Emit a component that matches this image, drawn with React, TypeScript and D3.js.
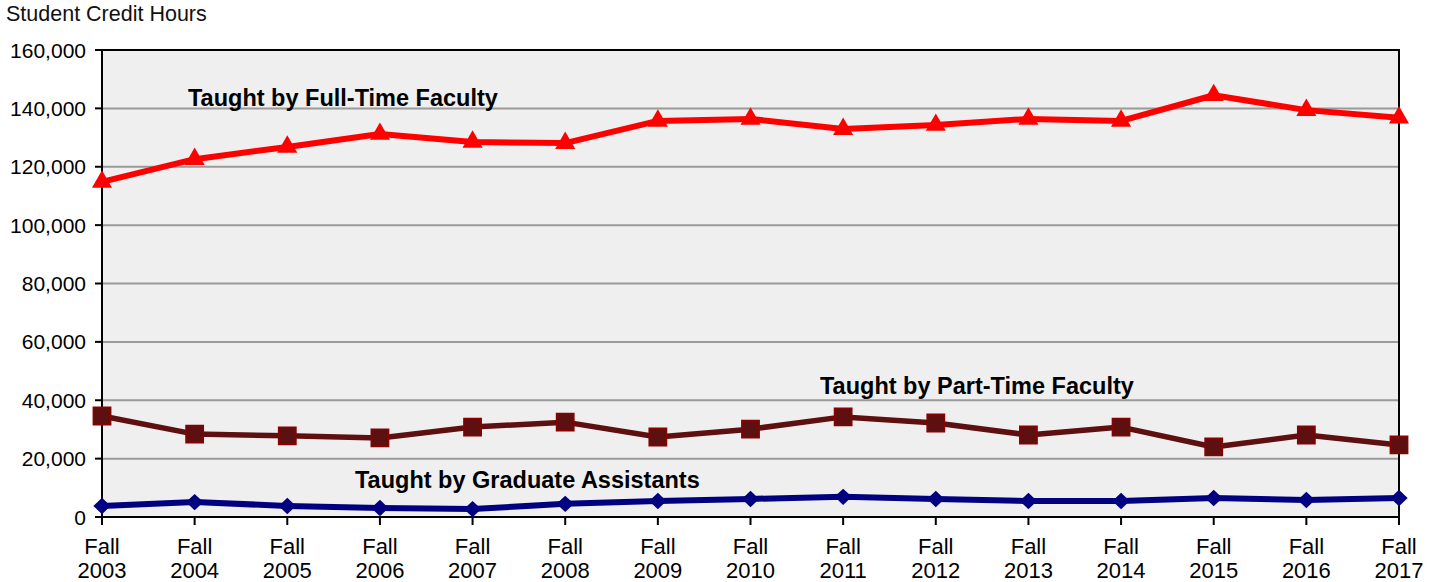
import React from "react";
import * as d3 from "d3";

const categories = ["2003","2004","2005","2006","2007","2008","2009","2010","2011","2012","2013","2014","2015","2016","2017"];
const fullTime = [114800,122600,126800,131200,128500,128100,135700,136400,132900,134300,136400,135700,144500,139400,136800];
const partTime = [34600,28400,27800,27100,30800,32500,27400,30100,34300,32200,28100,30800,24000,28100,24700];
const gradAssist = [3800,5100,3800,3100,2700,4500,5500,6200,6900,6200,5500,5500,6500,5800,6500];
const yTicks = [0,20000,40000,60000,80000,100000,120000,140000,160000];

const W = 1442, H = 582;
const L = 102, R = 1399, T = 50, B = 517;

export default function App() {
  const x = d3.scalePoint<string>().domain(categories).range([L, R]);
  const y = d3.scaleLinear().domain([0, 160000]).range([B, T]);
  const line = d3.line<number>().x((_, i) => x(categories[i])!).y((d) => y(d));
  const fmt = d3.format(",");
  const font = "'Liberation Sans', Arial, sans-serif";
  const tri = d3.symbol().type(d3.symbolTriangle).size(175)()!;
  const sq = d3.symbol().type(d3.symbolSquare).size(300)()!;
  const dia = d3.symbol().type(d3.symbolSquare).size(150)()!;

  return (
    <svg width={W} height={H} style={{ position: "absolute", left: 0, top: 0 }} fontFamily={font}>
      <rect x={0} y={0} width={W} height={H} fill="#ffffff" />
      <rect x={L} y={T} width={R - L} height={B - T} fill="#efefef" />
      {yTicks.map((t) => (
        <g key={t}>
          {t > 0 && t < 160000 && (
            <line x1={L} x2={R} y1={y(t)} y2={y(t)} stroke="#9a9a9a" strokeWidth={2} />
          )}
          <line x1={L - 7} x2={L} y1={y(t)} y2={y(t)} stroke="#000" strokeWidth={2} />
          <text x={L - 16} y={y(t)} dy="0.36em" textAnchor="end" fontSize={21} fill="#000">
            {fmt(t)}
          </text>
        </g>
      ))}
      <rect x={L} y={T} width={R - L} height={B - T} fill="none" stroke="#000" strokeWidth={2} />
      {categories.map((c) => (
        <g key={c}>
          <line x1={x(c)!} x2={x(c)!} y1={B} y2={B + 8} stroke="#000" strokeWidth={2} />
          <text x={x(c)!} y={554} textAnchor="middle" fontSize={22} fill="#000">Fall</text>
          <text x={x(c)!} y={578} textAnchor="middle" fontSize={22} fill="#000">{c}</text>
        </g>
      ))}
      <text x={6} y={21} fontSize={21.5} fill="#111">Student Credit Hours</text>

      <path d={line(fullTime)!} fill="none" stroke="#ff0000" strokeWidth={6} strokeLinejoin="round" />
      {fullTime.map((v, i) => (
        <path key={i} d={tri} transform={`translate(${x(categories[i])},${y(v)})`} fill="#ff0000" />
      ))}

      <path d={line(partTime)!} fill="none" stroke="#5e1010" strokeWidth={5.5} strokeLinejoin="round" />
      {partTime.map((v, i) => (
        <path key={i} d={sq} transform={`translate(${x(categories[i])},${y(v)})`} fill="#5e1010" stroke="#8b0000" strokeWidth={1.5} />
      ))}

      <path d={line(gradAssist)!} fill="none" stroke="#000080" strokeWidth={6} strokeLinejoin="round" />
      {gradAssist.map((v, i) => (
        <path key={i} d={dia} transform={`translate(${x(categories[i])},${y(v)}) scale(1,0.95) rotate(45)`} fill="#000080" />
      ))}

      <text x={188} y={106} fontSize={23.5} fontWeight="bold" fill="#000">Taught by Full-Time Faculty</text>
      <text x={820} y={394} fontSize={23.5} fontWeight="bold" fill="#000">Taught by Part-Time Faculty</text>
      <text x={355} y={488} fontSize={23.5} fontWeight="bold" fill="#000">Taught by Graduate Assistants</text>
    </svg>
  );
}
